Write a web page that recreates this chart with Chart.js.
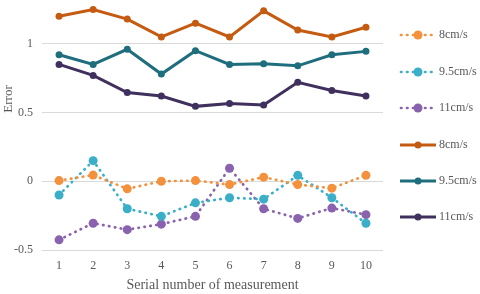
<!DOCTYPE html>
<html>
<head>
<meta charset="utf-8">
<script src="https://cdn.jsdelivr.net/npm/chart.js@4"></script>
<style>
  body{margin:0;background:#fff;}
  #wrap{width:480px;height:294px;}
</style>
</head>
<body>
<div id="wrap"><canvas id="diagram" width="480" height="294"></canvas></div>
<script>
const labels = ['1','2','3','4','5','6','7','8','9','10'];
const seriesNames = ['8cm/s','9.5cm/s','11cm/s'];
// dotted series
const dot8 = [0.005, 0.045, -0.055, 0, 0.005, -0.024, 0.03, -0.024, -0.05, 0.043];
const dot95 = [-0.10, 0.15, -0.20, -0.255, -0.157, -0.12, -0.13, 0.043, -0.12, -0.305];
const dot11 = [-0.426, -0.305, -0.352, -0.312, -0.255, 0.095, -0.20, -0.27, -0.195, -0.243];
// solid series
const sol8 = [1.20, 1.25, 1.18, 1.05, 1.15, 1.05, 1.24, 1.10, 1.05, 1.12];
const sol95 = [0.92, 0.85, 0.96, 0.78, 0.95, 0.85, 0.855, 0.84, 0.92, 0.945];
const sol11 = [0.85, 0.77, 0.645, 0.62, 0.545, 0.566, 0.555, 0.72, 0.66, 0.62];
const yTicks = [-0.5, 0, 0.5, 1];

const dotColors = ['#F4913C', '#3AAFC7', '#8A63AE'];
const solColors = ['#C55B11', '#1F6E7D', '#40305E'];

function dotted(data, c, name){
  return {label:name, data:data, borderColor:c, backgroundColor:c, borderWidth:2.7,
    borderDash:[0.5,5.5], borderCapStyle:'round', pointRadius:4.5, pointHoverRadius:4.5,
    pointBorderWidth:0, tension:0, dotted:true};
}
function solid(data, c, name){
  return {label:name, data:data, borderColor:c, backgroundColor:c, borderWidth:3,
    pointRadius:3.5, pointHoverRadius:3.5, pointBorderWidth:0, tension:0, dotted:false};
}

const legendPlugin = {
  id:'sideLegend',
  afterDraw(chart){
    const c = chart.ctx;
    const ys = [35, 72, 108, 145, 181, 217];
    chart.data.datasets.forEach((ds, i)=>{
      const y = ys[i];
      c.save();
      c.strokeStyle = ds.borderColor;
      c.fillStyle = ds.borderColor;
      if(ds.dotted){
        c.lineWidth = 2.7;
        c.lineCap = 'round';
        c.setLineDash([0.5,5.5]);
        c.beginPath(); c.moveTo(401,y); c.lineTo(436,y); c.stroke();
        c.setLineDash([]);
        c.beginPath(); c.arc(418,y,4.5,0,Math.PI*2); c.fill();
      }else{
        c.lineWidth = 3;
        c.beginPath(); c.moveTo(400,y); c.lineTo(436,y); c.stroke();
        c.beginPath(); c.arc(418,y,3.5,0,Math.PI*2); c.fill();
      }
      c.fillStyle = '#595959';
      c.font = '12px "Liberation Serif", serif';
      c.textBaseline = 'middle';
      c.fillText(ds.label, 439, y);
      c.restore();
    });
    // y axis title
    c.save();
    c.translate(9, 99);
    c.rotate(-Math.PI/2);
    c.fillStyle = '#595959';
    c.font = '13px "Liberation Serif", serif';
    c.textAlign = 'center';
    c.textBaseline = 'middle';
    c.fillText('Error', 0, 0);
    c.restore();
  }
};

const ctx = document.getElementById('diagram');
new Chart(ctx, {
  type:'line',
  data:{
    labels:labels,
    datasets:[
      dotted(dot8, dotColors[0], seriesNames[0]),
      dotted(dot95, dotColors[1], seriesNames[1]),
      dotted(dot11, dotColors[2], seriesNames[2]),
      solid(sol8, solColors[0], seriesNames[0]),
      solid(sol95, solColors[1], seriesNames[1]),
      solid(sol11, solColors[2], seriesNames[2])
    ]
  },
  options:{
    responsive:false,
    animation:false,
    layout:{padding:{top:0, right:97, left:0, bottom:0}},
    scales:{
      x:{
        offset:true,
        grid:{display:false, drawTicks:false},
        border:{display:false},
        ticks:{color:'#595959', font:{family:'"Liberation Serif", serif', size:12}, padding:9},
        title:{display:true, text:'Serial number of measurement', color:'#595959',
          font:{family:'"Liberation Serif", serif', size:14}, padding:{top:2,bottom:0}},
        afterFit(scale){ scale.height = 44; scale.paddingLeft = 0; scale.paddingRight = 0; }
      },
      y:{
        min:-0.5, max:1.286,
        afterBuildTicks(axis){ axis.ticks = yTicks.map(v=>({value:v})); },
        grid:{color:'#d9d9d9', drawTicks:false},
        border:{display:false},
        ticks:{color:'#595959', font:{family:'"Liberation Serif", serif', size:12}, padding:9,
          callback:(v)=>String(v)},
        afterFit(scale){ scale.width = 42; scale.paddingTop = 0; scale.paddingBottom = 0; }
      }
    },
    plugins:{
      legend:{display:false},
      tooltip:{enabled:false}
    }
  },
  plugins:[legendPlugin]
});
</script>
</body>
</html>
